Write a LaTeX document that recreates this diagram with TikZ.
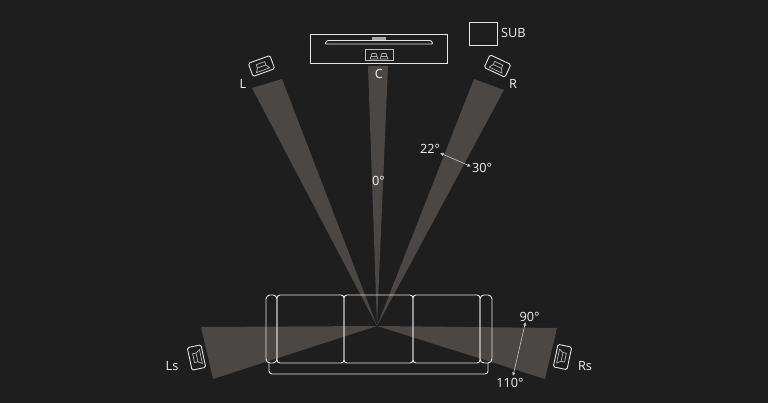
\documentclass[tikz,border=0pt]{standalone}
\usepackage{fontspec}
\setmainfont{Open Sans}
\usetikzlibrary{arrows.meta}
\definecolor{bgdark}{HTML}{1E1E1E}
\definecolor{beamgray}{HTML}{4A4745}
\definecolor{linelight}{HTML}{E6E6E6}
\definecolor{textlight}{HTML}{F2F2F2}
\begin{document}
\begin{tikzpicture}[x=1pt, y=-1pt, font=\fontsize{12.7}{13}\selectfont]
    \tikzstyle{beam_style} = [fill=beamgray, draw=none]
    \tikzstyle{line_style} = [linelight, line width=0.9]
    \tikzstyle{thin_style} = [linelight!75!bgdark, line width=0.7]
    \tikzstyle{label_style} = [inner sep=0pt, text=textlight]
    \tikzstyle{arrow_style} = [{Latex[length=3.5,width=3.5]}-{Latex[length=3.5,width=3.5]}, linelight!85!bgdark, line width=0.6]
    \tikzset{speaker/.pic={
        \draw[line_style, rounded corners=1.5] (-11.5,-7) rectangle (11.5,7);
        \draw[thin_style] (-4.5,-3) rectangle (4.5,0.5);
        \draw[thin_style] (-4.5,0.5) -- (-7,4.5) -- (7,4.5) -- (4.5,0.5);
    }}

    \fill[bgdark] (0,0) rectangle (768,403);
    \useasboundingbox (0,0) rectangle (768,403);

    % beams
    \coordinate (apex) at (377,326);
    \fill[beam_style] (apex) -- (252,88) -- (282,79) -- cycle;
    \fill[beam_style] (apex) -- (368,66) -- (388,66) -- cycle;
    \fill[beam_style] (apex) -- (474,79) -- (504,90) -- cycle;
    \fill[beam_style] (apex) -- (201,327) -- (213,379) -- cycle;
    \fill[beam_style] (apex) -- (557,328) -- (545,379) -- cycle;

    % sofa
    \draw[line_style, rounded corners=4] (266,363) rectangle (277,295);
    \draw[line_style, rounded corners=3] (277,363) rectangle (344,295);
    \draw[line_style, rounded corners=3] (344,363) rectangle (413,295);
    \draw[line_style, rounded corners=3] (413,363) rectangle (480,295);
    \draw[line_style, rounded corners=4] (480,363) rectangle (492,295);
    \draw[line_style, rounded corners=3] (269,363) -- (269,374) -- (488,374) -- (488,363);

    % tv
    \node[draw=linelight, line width=0.9, minimum width=137, minimum height=29, inner sep=0pt] (tvbox) at (378.5,48.5) {};
    \draw[line_style, rounded corners=1] (325,44) -- (433,44) -- (431,40.5) -- (327,40.5) -- cycle;
    \fill[linelight!70!bgdark] (372,37) rectangle (386,40.5);
    \node[draw=linelight!80!bgdark, line width=0.8, minimum width=28, minimum height=11, inner sep=0pt] (cspeaker) at (379,54.5) {};
    \draw[thin_style] (370,59) -- (372,53.5) -- (376,53.5) -- (378,59) -- cycle (371,56.5) -- (377,56.5);
    \draw[thin_style] (380,59) -- (382,53.5) -- (386,53.5) -- (388,59) -- cycle (381,56.5) -- (387,56.5);

    % speakers
    \pic[rotate=20] at (261.5,66) {speaker};
    \pic[rotate=-25] at (497.5,66) {speaker};
    \pic[rotate=102] at (196.5,357.5) {speaker};
    \pic[rotate=-102] at (562.5,357) {speaker};

    % sub
    \node[draw=linelight, line width=0.9, minimum width=28, minimum height=23, inner sep=0pt] (subbox) at (483,33.5) {};
    \node[label_style, right=0pt] (subtext) at (501,33) {SUB};

    % labels
    \node[label_style] (ltext) at (243,84) {L};
    \node[label_style] (ctext) at (379,74) {C};
    \node[label_style] (rtext) at (513,84) {R};
    \node[label_style] (lstext) at (172,366) {Ls};
    \node[label_style] (rstext) at (585,366) {Rs};
    \node[label_style] (zerotext) at (378.5,181) {0°};
    \node[label_style] (t22) at (430,149) {22°};
    \node[label_style] (t30) at (482,168) {30°};
    \node[label_style] (t90) at (529.5,317) {90°};
    \node[label_style] (t110) at (510,383) {110°};

    \coordinate (a22) at (440,153);
    \coordinate (a30) at (471,166.5);
    \coordinate (a90) at (525.5,322);
    \coordinate (a110) at (513,376);
    \draw[arrow_style] (a22) -- (a30);
    \draw[arrow_style] (a90) -- (a110);
\end{tikzpicture}
\end{document}
